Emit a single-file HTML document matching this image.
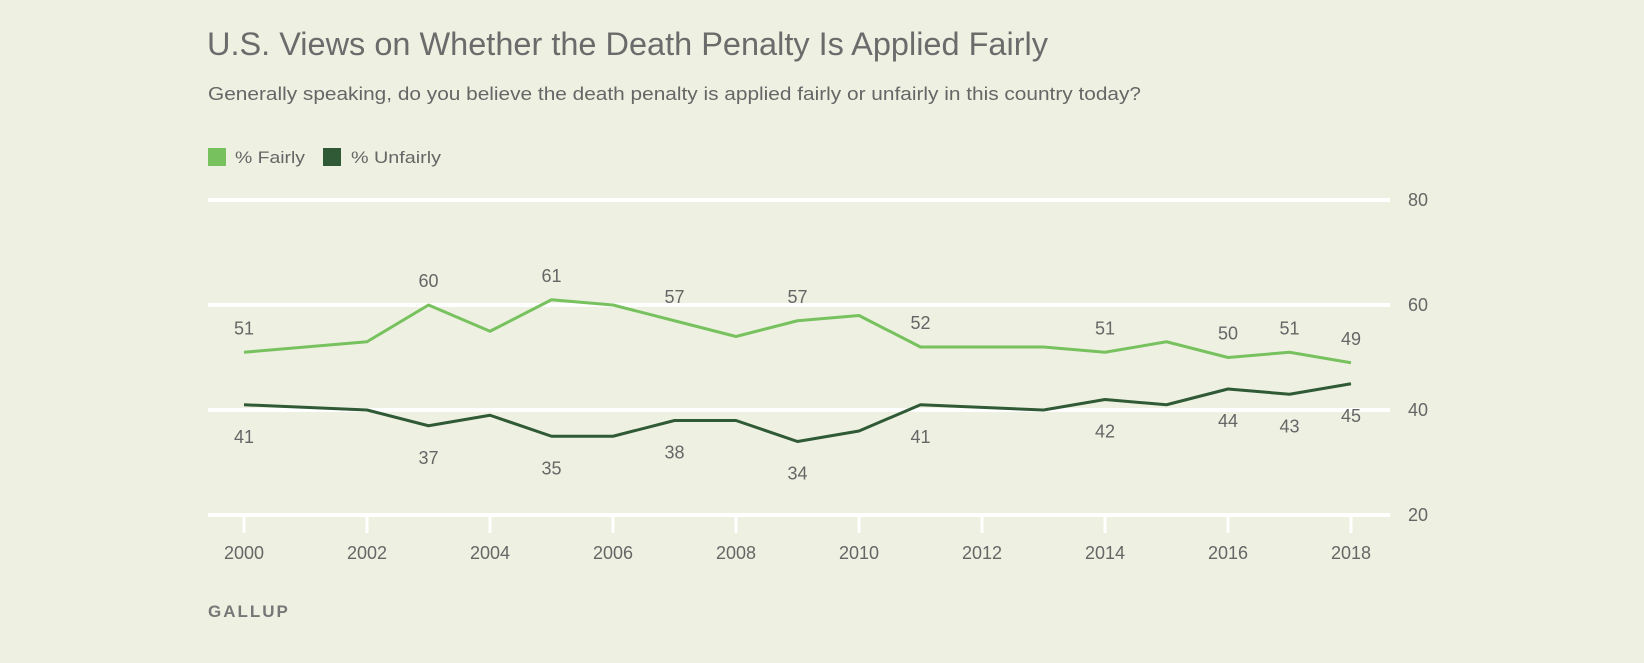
<!DOCTYPE html>
<html><head><meta charset="utf-8"><style>
html,body{margin:0;padding:0;background:#eef1e2;}
body{width:1644px;height:658px;overflow:hidden;font-family:"Liberation Sans",sans-serif;}
</style></head><body>
<svg width="1644" height="658" viewBox="0 0 1644 658" xmlns="http://www.w3.org/2000/svg" font-family="Liberation Sans, sans-serif">
<rect width="1644" height="658" fill="#eef1e2"/>
<text x="207" y="55" font-size="32" fill="#6b6b6b" textLength="841" lengthAdjust="spacingAndGlyphs">U.S. Views on Whether the Death Penalty Is Applied Fairly</text>
<text x="208" y="100" font-size="18" fill="#666" textLength="933" lengthAdjust="spacingAndGlyphs">Generally speaking, do you believe the death penalty is applied fairly or unfairly in this country today?</text>
<rect x="208" y="148" width="18" height="18" fill="#78c15f"/>
<text x="235" y="163" font-size="17" fill="#666" textLength="70" lengthAdjust="spacingAndGlyphs">% Fairly</text>
<rect x="323" y="148" width="18" height="18" fill="#2f5a35"/>
<text x="351" y="163" font-size="17" fill="#666" textLength="90" lengthAdjust="spacingAndGlyphs">% Unfairly</text>
<g stroke="#fff" stroke-width="4">
<line x1="208" y1="200" x2="1390" y2="200"/>
<line x1="208" y1="305" x2="1390" y2="305"/>
<line x1="208" y1="410" x2="1390" y2="410"/>
<line x1="208" y1="515" x2="1390" y2="515"/>
</g>
<g stroke="#fff" stroke-width="3" id="ticks"></g>
<g font-size="18" fill="#666">
<text x="1408" y="206">80</text><text x="1408" y="311">60</text><text x="1408" y="416">40</text><text x="1408" y="521">20</text>
</g>
<g id="xl" font-size="18" fill="#666" text-anchor="middle"></g>
<polyline id="f" fill="none" stroke="#78c15f" stroke-width="3" stroke-linejoin="round"/>
<polyline id="u" fill="none" stroke="#2f5a35" stroke-width="3" stroke-linejoin="round"/>
<g id="lab" font-size="18" fill="#666" text-anchor="middle"></g>
<text x="208" y="617" font-size="17" font-weight="bold" fill="#777" letter-spacing="2">GALLUP</text>
</svg>
<script>
var ns="http://www.w3.org/2000/svg";
function X(y){return 244+(y-2000)*61.5;}
function Y(v){return 515-(v-20)*5.25;}
var yrs=[2000,2002,2003,2004,2005,2006,2007,2008,2009,2010,2011,2013,2014,2015,2016,2017,2018];
var F=[51,53,60,55,61,60,57,54,57,58,52,52,51,53,50,51,49];
var U=[41,40,37,39,35,35,38,38,34,36,41,40,42,41,44,43,45];
var L=[2000,2003,2005,2007,2009,2011,2014,2016,2017,2018];
function el(t,a,p,txt){var e=document.createElementNS(ns,t);for(var k in a)e.setAttribute(k,a[k]);if(txt)e.textContent=txt;document.getElementById(p).appendChild(e);}
for(var y=2000;y<=2018;y+=2){el("line",{x1:X(y),y1:515,x2:X(y),y2:533},"ticks");el("text",{x:X(y),y:559},"xl",""+y);}
document.getElementById("f").setAttribute("points",yrs.map(function(y,i){return X(y)+","+Y(F[i]);}).join(" "));
document.getElementById("u").setAttribute("points",yrs.map(function(y,i){return X(y)+","+Y(U[i]);}).join(" "));
yrs.forEach(function(y,i){if(L.indexOf(y)<0)return;
el("text",{x:X(y),y:Y(F[i])-18},"lab",""+F[i]);
el("text",{x:X(y),y:Y(U[i])+38},"lab",""+U[i]);});
</script>
</body></html>
